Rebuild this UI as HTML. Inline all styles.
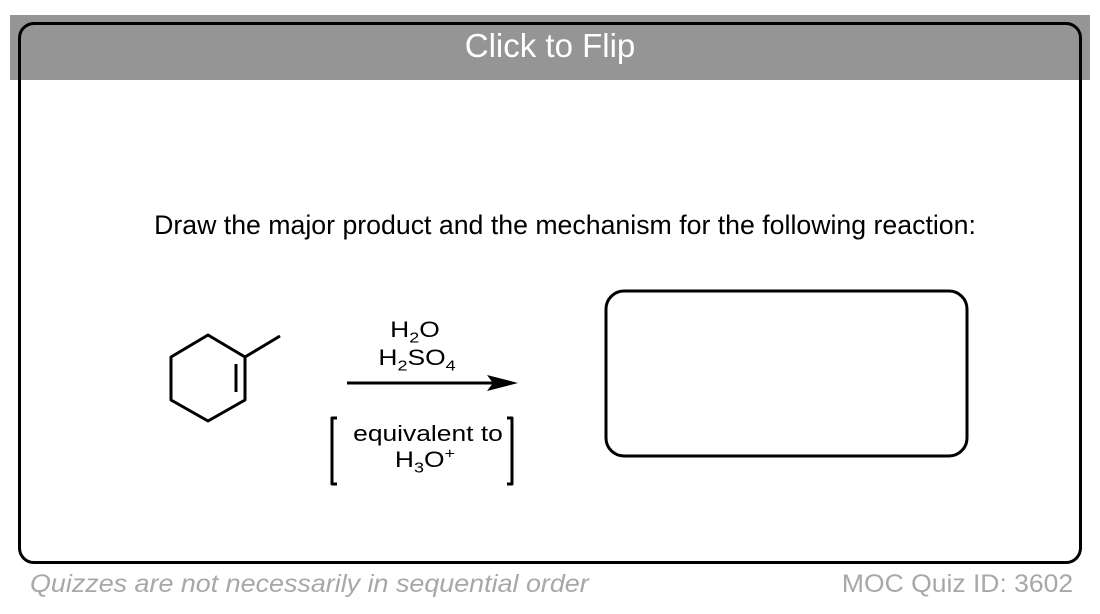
<!DOCTYPE html>
<html><head><meta charset="utf-8"><style>
html,body{margin:0;padding:0;background:#fff;width:1100px;height:614px;overflow:hidden;font-family:"Liberation Sans",sans-serif;}
.gray{position:absolute;left:10px;top:15px;width:1080px;height:65px;background:#959595;}
.card{position:absolute;left:18px;top:22px;width:1058px;height:536px;border:3px solid #000;border-radius:16px;}
.flip{position:absolute;left:0;width:1100px;top:27px;text-align:center;color:#fff;font-size:33px;line-height:38px;}
.t{position:absolute;white-space:nowrap;color:#000;line-height:1.15;}
.r{position:absolute;white-space:nowrap;text-align:center;font-size:22px;line-height:25px;transform:scaleX(1.2);}
.r sub,.r sup{font-size:15px;line-height:0;}
</style></head><body>
<div class="gray"></div>
<div class="card"></div>
<div class="flip">Click to Flip</div>
<div class="t" style="left:0;width:1130px;text-align:center;top:210px;font-size:26.7px;">Draw the major product and the mechanism for the following reaction:</div>
<svg width="1100" height="614" style="position:absolute;left:0;top:0">
<g stroke="#000" stroke-width="3" fill="none" stroke-linejoin="round">
<polygon points="208,335 245,357 245,400 208,421 171,400 171,357"/>
<line x1="245" y1="357" x2="280" y2="336"/>
<line x1="236" y1="364" x2="236" y2="392"/>
<line x1="347" y1="383" x2="495" y2="383"/>
<polyline points="337,418 332,418 332,484 337,484"/>
<polyline points="507,418 512,418 512,484 507,484"/>
<rect x="606" y="291" width="361" height="165" rx="18"/>
</g>
<polygon points="518,383 487,375 493,383 487,391" fill="#000"/>
</svg>
<div class="r" style="left:365px;width:100px;top:317px;">H<sub>2</sub>O</div>
<div class="r" style="left:367px;width:100px;top:345px;">H<sub>2</sub>SO<sub>4</sub></div>
<div class="r" style="left:348px;width:160px;top:421px;">equivalent to</div>
<div class="r" style="left:375px;width:100px;top:447px;">H<sub>3</sub>O<sup>+</sup></div>
<div class="t" style="left:30px;top:570px;font-size:25px;font-style:italic;color:#a8a8a8;transform:scaleX(1.075);transform-origin:left;">Quizzes are not necessarily in sequential order</div>
<div class="t" style="right:27px;top:570px;font-size:25px;color:#a8a8a8;transform:scaleX(1.06);transform-origin:right;">MOC Quiz ID: 3602</div>
</body></html>
